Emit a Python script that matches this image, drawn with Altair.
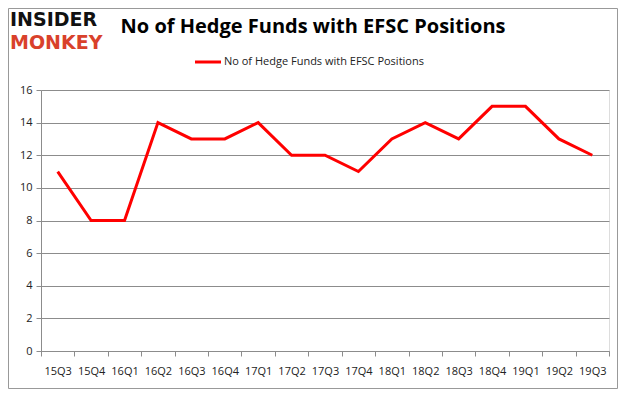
import altair as alt
import pandas as pd

quarters = ["15Q3", "15Q4", "16Q1", "16Q2", "16Q3", "16Q4", "17Q1", "17Q2", "17Q3",
            "17Q4", "18Q1", "18Q2", "18Q3", "18Q4", "19Q1", "19Q2", "19Q3"]
funds = [11, 8, 8, 14, 13, 13, 14, 12, 12, 11, 13, 14, 13, 15, 15, 13, 12]
series_name = "No of Hedge Funds with EFSC Positions"
title_text = "No of Hedge Funds with EFSC Positions"

df = pd.DataFrame({"quarter": quarters, "funds": funds})
one = pd.DataFrame({"k": [0]})

W, H = 568, 261
GRID = "#8c8c8c"

x_enc = alt.X("quarter:O", sort=quarters, bandPosition=0.5,
              scale=alt.Scale(type="band", paddingInner=0, paddingOuter=0),
              axis=alt.Axis(title=None, labelAngle=0, tickBand="extent", tickSize=5,
                            labelPadding=9, labelFontSize=11, labelColor="#222",
                            domainColor=GRID, tickColor=GRID, grid=False,
                            labelFont="Open Sans"))
y_enc = alt.Y("funds:Q", scale=alt.Scale(domain=[0, 16]),
              axis=alt.Axis(title=None, values=list(range(0, 17, 2)), tickSize=5,
                            labelPadding=4, labelFontSize=11, labelColor="#222",
                            domainColor=GRID, tickColor=GRID, gridColor=GRID,
                            gridWidth=1, labelFont="Open Sans"))

line = alt.Chart(df).mark_line(color="#ff0000", strokeWidth=3, strokeJoin="miter").encode(
    x=x_enc, y=y_enc)

title = alt.Chart(one).mark_text(text=title_text, font="Open Sans", fontSize=20,
                                 fontWeight="bold", align="center", baseline="middle",
                                 color="#000").encode(x=alt.value(272), y=alt.value(-63))
legend_line = alt.Chart(one).mark_rule(color="#ff0000", strokeWidth=3).encode(
    x=alt.value(154), x2=alt.value(180), y=alt.value(-28))
legend_text = alt.Chart(one).mark_text(text=series_name, font="Open Sans", fontSize=11,
                                       align="left", baseline="middle", color="#222").encode(
    x=alt.value(183), y=alt.value(-28))
logo1 = alt.Chart(one).mark_text(text="INSIDER", font="DejaVu Sans", fontSize=19,
                                 fontWeight="bold", align="left", baseline="middle",
                                 color="#111").encode(x=alt.value(-31), y=alt.value(-70))
logo2 = alt.Chart(one).mark_text(text="MONKEY", font="DejaVu Sans", fontSize=19,
                                 fontWeight="bold", align="left", baseline="middle",
                                 color="#d9412b").encode(x=alt.value(-31), y=alt.value(-47))
border = alt.Chart(one).mark_rect(fill=None, stroke="#999", strokeWidth=1).encode(
    x=alt.value(-32.5), x2=alt.value(W + 8.5), y=alt.value(-81.5), y2=alt.value(H + 37.5))

chart = alt.layer(line, title, legend_line, legend_text, logo1, logo2, border).properties(
    width=W, height=H,
    autosize=alt.AutoSizeParams(type="none"),
    padding={"left": 33, "top": 82, "right": 9, "bottom": 38},
).configure_view(stroke=None).configure(background="white")

chart.save("out.html", embed_options={"renderer": "svg", "actions": False})
